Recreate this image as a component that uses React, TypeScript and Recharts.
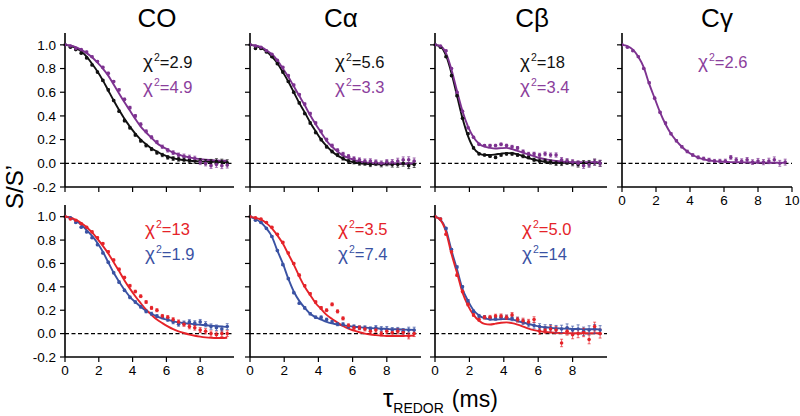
import React from 'react';
import { ComposedChart, Line, Scatter, ErrorBar, XAxis, YAxis, ReferenceLine } from 'recharts';

// time grid of the REDOR points (ms)
const T = [0, 0.32, 0.64, 0.96, 1.28, 1.6, 1.92, 2.24, 2.56, 2.88, 3.2, 3.52, 3.84, 4.16, 4.48, 4.8, 5.12, 5.44, 5.76, 6.08, 6.4, 6.72, 7.04, 7.36, 7.68, 8.0, 8.32, 8.64, 8.96, 9.28, 9.6];
const ERR = [0.005, 0.005, 0.006, 0.006, 0.007, 0.007, 0.008, 0.008, 0.009, 0.009, 0.01, 0.01, 0.011, 0.011, 0.012, 0.012, 0.013, 0.013, 0.014, 0.015, 0.016, 0.017, 0.018, 0.019, 0.02, 0.021, 0.022, 0.023, 0.024, 0.025, 0.025];
const ERR_WIDE = [0.006, 0.006, 0.008, 0.008, 0.01, 0.01, 0.012, 0.012, 0.014, 0.014, 0.016, 0.016, 0.018, 0.018, 0.02, 0.02, 0.022, 0.022, 0.024, 0.025, 0.026, 0.028, 0.03, 0.032, 0.033, 0.034, 0.035, 0.036, 0.037, 0.038, 0.038];

const X_TICKS = [0, 2, 4, 6, 8];
const X_TICKS_10 = [0, 2, 4, 6, 8, 10];
const Y_TICKS = [-0.2, 0, 0.2, 0.4, 0.6, 0.8, 1.0];

// Top row: CO
const coTopFitK = [1, 0.99, 0.975, 0.945, 0.9, 0.84, 0.775, 0.7, 0.615, 0.53, 0.45, 0.375, 0.31, 0.25, 0.2, 0.16, 0.125, 0.1, 0.075, 0.057, 0.044, 0.034, 0.027, 0.022, 0.019, 0.016, 0.014, 0.013, 0.012, 0.011, 0.01];
const coTopDatK = [1.0, 0.98, 0.96, 0.93, 0.89, 0.83, 0.77, 0.7, 0.62, 0.53, 0.44, 0.36, 0.3, 0.24, 0.19, 0.15, 0.12, 0.09, 0.07, 0.05, 0.04, 0.035, 0.03, 0.025, 0.02, 0.02, 0.01, 0.01, 0.015, 0.01, 0.005];
const coTopFitP = [1, 0.995, 0.98, 0.957, 0.93, 0.895, 0.85, 0.8, 0.74, 0.665, 0.59, 0.515, 0.445, 0.375, 0.31, 0.26, 0.215, 0.17, 0.14, 0.115, 0.09, 0.075, 0.06, 0.05, 0.042, 0.035, 0.03, 0.027, 0.024, 0.022, 0.02];
const coTopDatP = [1.0, 0.99, 0.97, 0.96, 0.94, 0.9, 0.86, 0.81, 0.76, 0.69, 0.62, 0.54, 0.47, 0.4, 0.33, 0.27, 0.22, 0.18, 0.14, 0.11, 0.09, 0.07, 0.06, 0.05, 0.04, 0.01, 0.0, -0.02, -0.01, -0.02, -0.015];

// Top row: C-alpha
const caTopFitK = [1, 0.99, 0.975, 0.945, 0.9, 0.845, 0.77, 0.69, 0.6, 0.51, 0.43, 0.345, 0.27, 0.2, 0.145, 0.1, 0.065, 0.04, 0.02, 0.008, 0.0, -0.004, -0.006, -0.008, -0.008, -0.008, -0.007, -0.006, -0.005, -0.005, -0.004];
const caTopDatK = [1.0, 0.97, 0.97, 0.94, 0.9, 0.84, 0.77, 0.69, 0.6, 0.51, 0.42, 0.34, 0.26, 0.2, 0.14, 0.1, 0.07, 0.04, 0.02, 0.01, 0.0, 0.0, -0.01, 0.0, -0.01, 0.0, -0.01, -0.01, 0.0, -0.02, -0.01];
const caTopFitP = [1, 0.995, 0.98, 0.955, 0.92, 0.87, 0.8, 0.73, 0.65, 0.57, 0.49, 0.405, 0.33, 0.26, 0.19, 0.14, 0.1, 0.065, 0.045, 0.028, 0.015, 0.008, 0.004, 0.001, 0, -0.001, -0.002, -0.002, -0.001, -0.001, 0];
const caTopDatP = [1.0, 0.99, 0.98, 0.95, 0.92, 0.87, 0.81, 0.74, 0.66, 0.58, 0.5, 0.42, 0.34, 0.27, 0.2, 0.15, 0.11, 0.08, 0.06, 0.04, 0.03, 0.02, 0.02, 0.01, 0.0, 0.01, 0.01, 0.02, 0.03, 0.03, 0.02];

// Top row: C-beta
const cbTopFitK = [1, 0.985, 0.91, 0.76, 0.57, 0.38, 0.23, 0.13, 0.085, 0.07, 0.07, 0.075, 0.082, 0.086, 0.085, 0.075, 0.06, 0.043, 0.03, 0.02, 0.012, 0.008, 0.005, 0.004, 0.003, 0.003, 0.003, 0.004, 0.004, 0.004, 0.004];
const cbTopDatK = [1.0, 0.98, 0.9, 0.74, 0.57, 0.38, 0.25, 0.13, 0.08, 0.07, 0.06, 0.05, 0.07, 0.08, 0.08, 0.07, 0.06, 0.05, 0.03, 0.02, 0.02, 0.01, 0.0, 0.0, 0.01, 0.0, -0.01, 0.0, 0.0, 0.01, 0.0];
const cbTopFitP = [1, 0.99, 0.93, 0.79, 0.61, 0.44, 0.31, 0.22, 0.165, 0.14, 0.13, 0.125, 0.128, 0.13, 0.12, 0.105, 0.09, 0.075, 0.06, 0.045, 0.035, 0.027, 0.02, 0.015, 0.012, 0.01, 0.01, 0.01, 0.01, 0.01, 0.01];
const cbTopDatP = [1.0, 0.99, 0.95, 0.8, 0.6, 0.44, 0.3, 0.22, 0.16, 0.15, 0.15, 0.15, 0.16, 0.15, 0.14, 0.13, 0.1, 0.08, 0.08, 0.07, 0.08, 0.07, 0.07, 0.03, 0.02, 0.01, 0.0, -0.02, -0.01, 0.01, 0.0];

// Top row: C-gamma
const cgTopFitP = [1, 0.99, 0.96, 0.9, 0.81, 0.67, 0.55, 0.43, 0.33, 0.25, 0.19, 0.14, 0.1, 0.07, 0.047, 0.033, 0.024, 0.018, 0.014, 0.012, 0.01, 0.009, 0.008, 0.007, 0.007, 0.006, 0.006, 0.005, 0.005, 0.005, 0.004];
const cgTopDatP = [1.0, 0.98, 0.95, 0.9, 0.8, 0.68, 0.55, 0.43, 0.34, 0.25, 0.19, 0.14, 0.1, 0.07, 0.05, 0.04, 0.03, 0.02, 0.02, 0.02, 0.05, 0.03, 0.02, 0.03, 0.01, 0.02, 0.01, 0.02, 0.03, 0.0, 0.01];

// Bottom row: CO
const coBotFitR = [1, 0.993, 0.972, 0.945, 0.91, 0.865, 0.81, 0.75, 0.685, 0.61, 0.535, 0.455, 0.385, 0.32, 0.26, 0.205, 0.16, 0.12, 0.09, 0.062, 0.038, 0.02, 0.005, -0.008, -0.018, -0.026, -0.032, -0.036, -0.038, -0.037, -0.035];
const coBotDatR = [1.0, 0.98, 0.97, 0.94, 0.91, 0.87, 0.82, 0.77, 0.7, 0.63, 0.55, 0.48, 0.41, 0.36, 0.32, 0.27, 0.22, 0.2, 0.15, 0.14, 0.12, 0.1, 0.08, 0.06, 0.05, 0.03, 0.02, 0.0, -0.01, 0.0, 0.0];
const coBotFitB = [1, 0.99, 0.965, 0.93, 0.885, 0.835, 0.775, 0.7, 0.61, 0.52, 0.445, 0.375, 0.315, 0.27, 0.23, 0.195, 0.17, 0.148, 0.13, 0.118, 0.105, 0.096, 0.09, 0.085, 0.08, 0.076, 0.072, 0.068, 0.064, 0.06, 0.058];
const coBotDatB = [1.0, 0.99, 0.95, 0.91, 0.87, 0.82, 0.76, 0.69, 0.61, 0.52, 0.44, 0.37, 0.31, 0.27, 0.23, 0.19, 0.17, 0.15, 0.14, 0.12, 0.1, 0.08, 0.09, 0.1, 0.09, 0.1, 0.08, 0.06, 0.05, 0.04, 0.06];

// Bottom row: C-alpha
const caBotFitR = [1, 0.99, 0.975, 0.945, 0.9, 0.84, 0.77, 0.68, 0.59, 0.49, 0.4, 0.33, 0.26, 0.21, 0.16, 0.125, 0.095, 0.065, 0.042, 0.026, 0.012, 0.0, -0.008, -0.013, -0.017, -0.02, -0.021, -0.021, -0.02, -0.018, -0.017];
const caBotDatR = [1.0, 0.99, 0.98, 0.95, 0.91, 0.85, 0.78, 0.69, 0.6, 0.5, 0.41, 0.34, 0.27, 0.22, 0.2, 0.25, 0.19, 0.13, 0.07, 0.05, 0.05, 0.04, 0.02, 0.03, 0.0, 0.02, 0.01, 0.02, 0.01, -0.02, 0.0];
const caBotFitB = [1, 0.98, 0.95, 0.9, 0.83, 0.71, 0.6, 0.47, 0.36, 0.28, 0.22, 0.17, 0.14, 0.12, 0.1, 0.087, 0.077, 0.07, 0.064, 0.059, 0.055, 0.051, 0.048, 0.045, 0.043, 0.04, 0.038, 0.037, 0.035, 0.033, 0.032];
const caBotDatB = [1.0, 0.97, 0.95, 0.9, 0.83, 0.71, 0.59, 0.47, 0.35, 0.26, 0.22, 0.17, 0.14, 0.14, 0.12, 0.1, 0.08, 0.08, 0.06, 0.06, 0.05, 0.05, 0.04, 0.05, 0.04, 0.04, 0.03, 0.03, 0.02, 0.03, 0.03];

// Bottom row: C-beta
const cbBotFitR = [1, 0.97, 0.87, 0.68, 0.52, 0.35, 0.24, 0.16, 0.11, 0.083, 0.078, 0.085, 0.093, 0.096, 0.09, 0.077, 0.06, 0.042, 0.03, 0.021, 0.014, 0.009, 0.007, 0.005, 0.004, 0.003, 0.003, 0.003, 0.003, 0.003, 0.003];
const cbBotDatR = [1.0, 0.98, 0.85, 0.7, 0.5, 0.36, 0.25, 0.16, 0.12, 0.14, 0.14, 0.15, 0.15, 0.14, 0.16, 0.12, 0.11, 0.1, 0.12, 0.02, 0.03, 0.04, 0.03, -0.08, 0.02, -0.01, 0.0, 0.01, -0.05, 0.06, 0.0];
const cbBotFitB = [1, 0.975, 0.89, 0.71, 0.55, 0.38, 0.28, 0.2, 0.155, 0.13, 0.122, 0.12, 0.123, 0.125, 0.12, 0.108, 0.095, 0.082, 0.07, 0.06, 0.054, 0.049, 0.046, 0.044, 0.042, 0.04, 0.039, 0.038, 0.037, 0.037, 0.036];
const cbBotDatB = [1.0, 0.98, 0.9, 0.72, 0.57, 0.4, 0.28, 0.19, 0.15, 0.14, 0.13, 0.13, 0.14, 0.14, 0.13, 0.12, 0.1, 0.08, 0.07, 0.06, 0.05, 0.05, 0.04, 0.04, 0.05, 0.03, 0.04, 0.02, 0.03, 0.04, 0.03];

const BLACK = '#111111';
const PURPLE = '#7d3290';
const PURPLE_TXT = '#8b3e9c';
const RED = '#e52329';
const BLUE = '#3a52a3';
const FONT = '"Liberation Sans", Arial, Helvetica, sans-serif';

type Series = { fit: number[]; dat: number[]; err: number[]; color: string };

type PanelProps = {
  left: number;
  top: number;
  w: number;
  h: number;
  series: Series[];
  xTicks: number[];
  showX: boolean;
  showY: boolean;
};

function Panel({ left, top, w, h, series, xTicks, showX, showY }: PanelProps) {
  const rows = T.map((tv, i) => {
    const r: Record<string, number> = { t: tv };
    series.forEach((s, k) => {
      r['f' + k] = s.fit[i];
      r['d' + k] = s.dat[i];
      r['e' + k] = s.err[i];
    });
    return r;
  });
  const YW = 45;
  const XH = 30;
  const MT = 6;
  const MR = 10;
  const tickStyle = { fontSize: 13.5, fill: '#000', fontFamily: FONT };
  return (
    <div style={{ position: 'absolute', left: left - YW, top: top - MT }}>
      <ComposedChart
        width={YW + w + MR}
        height={MT + h + XH}
        data={rows}
        margin={{ top: MT, right: MR, bottom: 0, left: 0 }}
      >
        <XAxis
          type="number"
          dataKey="t"
          domain={[0, 10]}
          ticks={xTicks}
          allowDataOverflow
          height={XH}
          axisLine={{ stroke: '#000', strokeWidth: 1.6 }}
          tickLine={{ stroke: '#000', strokeWidth: 1.2 }}
          tickSize={5}
          tickMargin={3}
          tick={tickStyle}
          tickFormatter={(v: number) => (showX ? String(v) : '')}
        />
        <YAxis
          type="number"
          domain={[-0.2, 1.1]}
          ticks={Y_TICKS}
          allowDataOverflow
          width={YW}
          axisLine={{ stroke: '#000', strokeWidth: 1.6 }}
          tickLine={{ stroke: '#000', strokeWidth: 1.2 }}
          tickSize={5}
          tickMargin={4}
          tick={tickStyle}
          tickFormatter={(v: number) => (showY ? v.toFixed(1) : '')}
        />
        <ReferenceLine y={0} stroke="#000" strokeWidth={1.3} strokeDasharray="4 2.5" />
        {series.map((s, k) => (
          <Line
            key={'l' + k}
            type="monotone"
            dataKey={'f' + k}
            stroke={s.color}
            strokeWidth={1.9}
            dot={false}
            activeDot={false}
            isAnimationActive={false}
          />
        ))}
        {series.map((s, k) => (
          <Scatter
            key={'s' + k}
            dataKey={'d' + k}
            fill={s.color}
            isAnimationActive={false}
            shape={(p: any) => <circle cx={p.cx} cy={p.cy} r={1.8} fill={s.color} />}
          >
            <ErrorBar
              dataKey={'e' + k}
              direction="y"
              width={1.5}
              stroke={s.color}
              strokeWidth={0.7}
              isAnimationActive={false}
            />
          </Scatter>
        ))}
      </ComposedChart>
    </div>
  );
}

function Chi({ x, y, value, color }: { x: number; y: number; value: string; color: string }) {
  return (
    <text x={x} y={y} fill={color} fontSize={16.5} fontFamily={FONT}>
      <tspan fontSize={19}>χ</tspan>
      <tspan dy={-7} dx={1} fontSize={10.5}>2</tspan>
      <tspan dy={7}>{'=' + value}</tspan>
    </text>
  );
}

const TITLES = ['CO', 'Cα', 'Cβ', 'Cγ'];
const TITLE_X = [157, 341, 532, 717];

export default function App() {
  const TOP_Y = 33;
  const TOP_H = 154;
  const BOT_Y = 205;
  const BOT_H = 152;
  return (
    <div
      style={{
        position: 'absolute',
        left: 0,
        top: 0,
        width: 800,
        height: 416,
        background: '#fff',
        overflow: 'hidden',
        fontFamily: FONT,
      }}
    >
      <Panel left={65} top={TOP_Y} w={169} h={TOP_H} xTicks={X_TICKS} showX={false} showY={true}
        series={[
          { fit: coTopFitK, dat: coTopDatK, err: ERR, color: BLACK },
          { fit: coTopFitP, dat: coTopDatP, err: ERR, color: PURPLE },
        ]} />
      <Panel left={250} top={TOP_Y} w={171} h={TOP_H} xTicks={X_TICKS} showX={false} showY={false}
        series={[
          { fit: caTopFitK, dat: caTopDatK, err: ERR, color: BLACK },
          { fit: caTopFitP, dat: caTopDatP, err: ERR, color: PURPLE },
        ]} />
      <Panel left={435} top={TOP_Y} w={172} h={TOP_H} xTicks={X_TICKS} showX={false} showY={false}
        series={[
          { fit: cbTopFitK, dat: cbTopDatK, err: ERR, color: BLACK },
          { fit: cbTopFitP, dat: cbTopDatP, err: ERR, color: PURPLE },
        ]} />
      <Panel left={622} top={TOP_Y} w={170} h={TOP_H} xTicks={X_TICKS_10} showX={true} showY={false}
        series={[{ fit: cgTopFitP, dat: cgTopDatP, err: ERR, color: PURPLE }]} />

      <Panel left={65} top={BOT_Y} w={169} h={BOT_H} xTicks={X_TICKS} showX={true} showY={true}
        series={[
          { fit: coBotFitB, dat: coBotDatB, err: ERR, color: BLUE },
          { fit: coBotFitR, dat: coBotDatR, err: ERR, color: RED },
        ]} />
      <Panel left={250} top={BOT_Y} w={171} h={BOT_H} xTicks={X_TICKS} showX={true} showY={false}
        series={[
          { fit: caBotFitB, dat: caBotDatB, err: ERR, color: BLUE },
          { fit: caBotFitR, dat: caBotDatR, err: ERR, color: RED },
        ]} />
      <Panel left={435} top={BOT_Y} w={172} h={BOT_H} xTicks={X_TICKS} showX={true} showY={false}
        series={[
          { fit: cbBotFitB, dat: cbBotDatB, err: ERR_WIDE, color: BLUE },
          { fit: cbBotFitR, dat: cbBotDatR, err: ERR_WIDE, color: RED },
        ]} />

      <svg
        width={800}
        height={416}
        style={{ position: 'absolute', left: 0, top: 0, pointerEvents: 'none' }}
      >
        {TITLES.map((t, i) => (
          <text key={t} x={TITLE_X[i]} y={27} textAnchor="middle" fontSize={26} fontFamily={FONT} fill="#000">
            {t}
          </text>
        ))}
        <Chi x={143} y={68} value="2.9" color={BLACK} />
        <Chi x={143} y={93} value="4.9" color={PURPLE_TXT} />
        <Chi x={335} y={68} value="5.6" color={BLACK} />
        <Chi x={335} y={93} value="3.3" color={PURPLE_TXT} />
        <Chi x={520} y={68} value="18" color={BLACK} />
        <Chi x={520} y={93} value="3.4" color={PURPLE_TXT} />
        <Chi x={698} y={68} value="2.6" color={PURPLE_TXT} />

        <Chi x={145} y={235} value="13" color={RED} />
        <Chi x={145} y={260} value="1.9" color={BLUE} />
        <Chi x={338} y={235} value="3.5" color={RED} />
        <Chi x={338} y={260} value="7.4" color={BLUE} />
        <Chi x={522} y={235} value="5.0" color={RED} />
        <Chi x={522} y={260} value="14" color={BLUE} />

        <text
          x={23}
          y={187}
          transform="rotate(-90 23 187)"
          textAnchor="middle"
          fontSize={24}
          fontFamily={FONT}
          fill="#000"
        >
          S/S’
        </text>

        <text x={383} y={407} fontFamily={FONT} fill="#000">
          <tspan fontSize={26}>τ</tspan>
          <tspan fontSize={14} dy={6}>REDOR</tspan>
          <tspan fontSize={23} dy={-6} dx={8}>(ms)</tspan>
        </text>
      </svg>
    </div>
  );
}
